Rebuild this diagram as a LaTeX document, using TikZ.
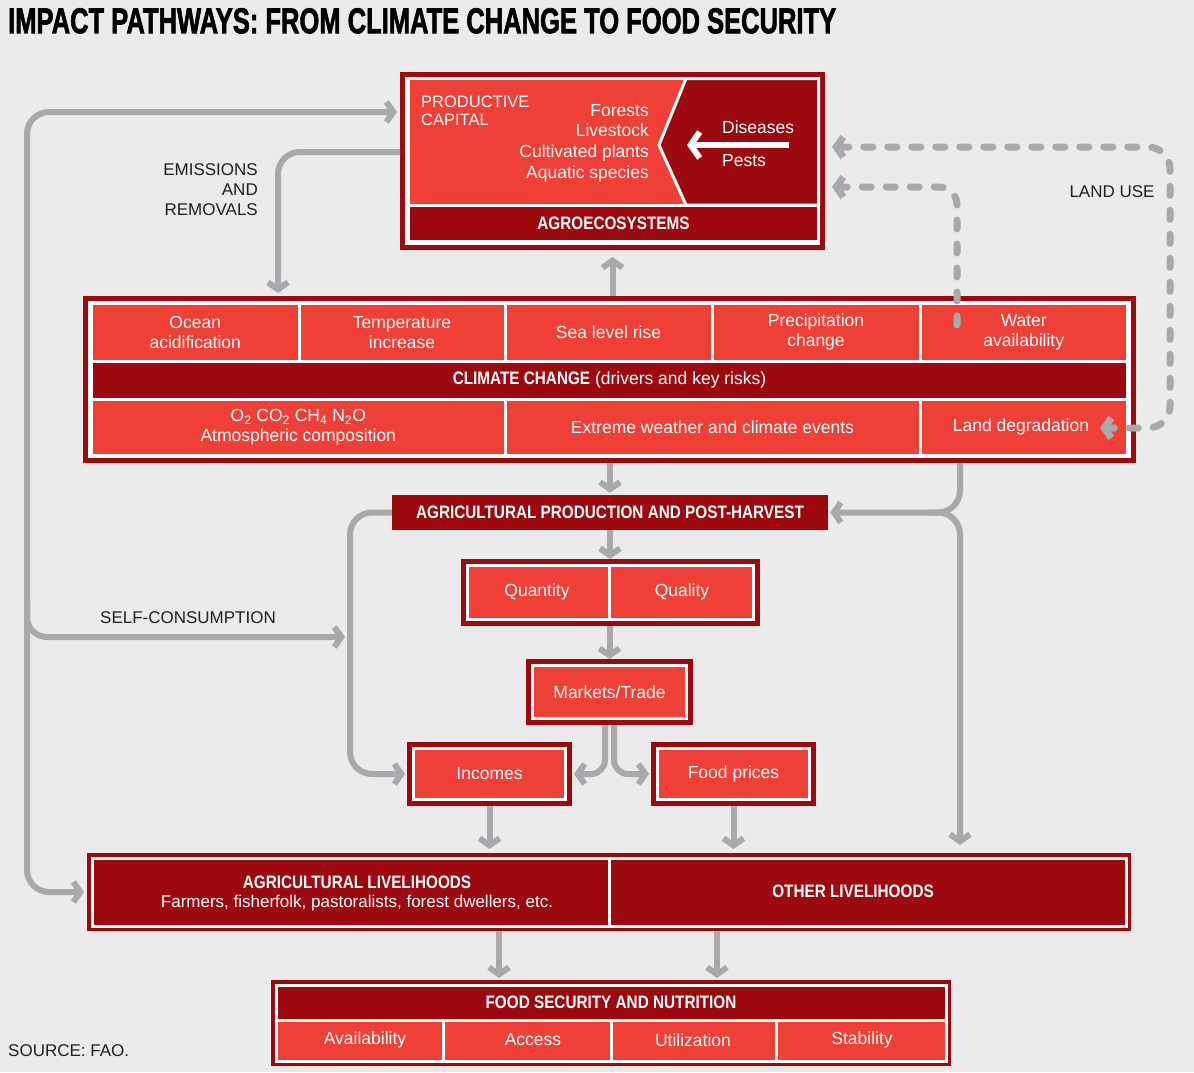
\documentclass[tikz,border=0pt]{standalone}
\usepackage{fontspec}
\usepackage{graphicx}
\setmainfont{Liberation Sans}
\newfontfamily\headf[FakeStretch=0.85]{Liberation Sans}
\newfontfamily\titlef[FakeBold=2.2]{Liberation Sans}
\usetikzlibrary{arrows.meta}
\definecolor{bg}{HTML}{EBEBEB}
\definecolor{dred}{HTML}{9C0A10}
\definecolor{bred}{HTML}{EE4036}
\definecolor{agray}{HTML}{A7A9AC}
\definecolor{ink}{HTML}{231F20}
\begin{document}
\begin{tikzpicture}[x=1pt,y=-1pt,
  >={Straight Barb[length=7pt,width=20pt]},
  font=\fontsize{17.5}{20}\selectfont,
  garrow/.style={draw=agray, line width=6pt, ->},
  gdash/.style={draw=agray, line width=7pt, line cap=round, dash pattern=on 9pt off 15pt},
  frameA/.style={fill=white, preaction={draw=dred, line width=10pt}, inner sep=0pt, outer sep=5pt},
  cell/.style={fill=bred, draw=white, line width=3pt, inner sep=0pt, text=white, align=center},
  dcell/.style={cell, fill=dred},
  boxW/.style={fill=bred, draw=white, line width=3pt, preaction={draw=dred, line width=13pt}, inner sep=0pt, outer sep=6.5pt, text=white, align=center},
  boxD/.style={draw=white, line width=3pt, preaction={draw=dred, line width=10pt}, inner sep=0pt, outer sep=5pt, text=white, align=center},
  hd/.style={font=\headf\bfseries\fontsize{18}{20}\selectfont},
  wtext/.style={text=white, inner sep=0pt},
  lab/.style={text=ink, inner sep=0pt, font=\fontsize{17}{20}\selectfont},
]
\useasboundingbox (0,0) rectangle (1194,1072);
\fill[bg] (0,0) rectangle (1194,1072);

% title
\node[anchor=north west, inner sep=0pt, text=black] (title) at (8,8)
  {\resizebox{828pt}{25pt}{\titlef\bfseries IMPACT PATHWAYS: FROM CLIMATE CHANGE TO FOOD SECURITY}};

% ---------- agroecosystems ----------
\node[frameA, minimum width=415pt, minimum height=168pt] (agro) at (612.5,161) {};
\node[cell, minimum width=410pt, minimum height=126.5pt] (agtop) at (613.5,141.75) {};
\filldraw[fill=dred, draw=white, line width=3pt] (686,78.5) -- (818.5,78.5) -- (818.5,205) -- (686,205) -- (659,145) -- cycle;
\node[dcell, minimum width=410pt, minimum height=36.5pt, hd] (agband) at (613.5,223.25) {AGROECOSYSTEMS};
\node[wtext, anchor=west, align=left, font=\fontsize{16.5}{18}\selectfont] (prodcap) at (421,110.5) {PRODUCTIVE\\CAPITAL};
\node[wtext, anchor=east, align=right, font=\fontsize{17.5}{20.7}\selectfont] (capital) at (649,143) {Forests\\Livestock\\Cultivated plants\\Aquatic species};
\node[wtext, anchor=west] (diseases) at (722,127) {Diseases};
\node[wtext, anchor=west] (pests) at (722,161) {Pests};
\coordinate (wa1) at (789,145);
\coordinate (wa2) at (687,145);
\draw[white, line width=6pt, -{Straight Barb[length=9pt,width=26pt]}] (wa1) -- (wa2);

% ---------- climate change ----------
\node[frameA, minimum width=1043pt, minimum height=157pt] (cc) at (609.5,379.5) {};
\node[cell, minimum width=207.5pt, minimum height=57.5pt] (ocean) at (195.25,332.25) {Ocean\\acidification};
\node[cell, minimum width=206pt, minimum height=57.5pt] (temp) at (402,332.25) {Temperature\\increase};
\node[cell, minimum width=207pt, minimum height=57.5pt] (sea) at (608.5,332.25) {Sea level rise};
\node[cell, minimum width=208pt, minimum height=57.5pt] (precip) at (816,332.25) {Precipitation\\change};
\node[cell, minimum width=207.5pt, minimum height=57.5pt] (water) at (1023.75,332.25) {Water\\availability};
\node[dcell, minimum width=1036pt, minimum height=38pt] (ccband) at (609.5,380) {{\headf\bfseries\fontsize{18}{20}\selectfont CLIMATE CHANGE} (drivers and key risks)};
\node[cell, minimum width=413.5pt, minimum height=56.5pt] (atmos) at (298.25,427.25) {O\textsubscript{2} CO\textsubscript{2} CH\textsubscript{4} N\textsubscript{2}O\\Atmospheric composition};
\node[cell, minimum width=415pt, minimum height=56.5pt] (extreme) at (712.5,427.25) {Extreme weather and climate events};
\node[cell, minimum width=207.5pt, minimum height=56.5pt] (landdeg) at (1023.75,427.25) {};
\node[wtext] (ldtext) at (1021,427) {Land degradation};

% ---------- production chain ----------
\node[fill=dred, minimum width=436pt, minimum height=35pt, inner sep=0pt, text=white, hd] (agprod) at (610,512.5) {AGRICULTURAL PRODUCTION AND POST-HARVEST};
\node[boxW, minimum width=286pt, minimum height=54pt] (qq) at (610.5,592.5) {};
\coordinate (qqa) at (609,565.5);
\coordinate (qqb) at (609,619.5);
\draw[white, line width=3pt] (qqa) -- (qqb);
\node[wtext] (quantity) at (537,592) {Quantity};
\node[wtext] (quality) at (682,592) {Quality};
\node[boxW, minimum width=154pt, minimum height=53pt] (markets) at (609.5,692) {Markets/Trade};
\node[boxW, minimum width=152pt, minimum height=51pt] (incomes) at (489.5,774) {Incomes};
\node[boxW, minimum width=152pt, minimum height=51pt] (foodprices) at (733.5,774) {Food prices};

% ---------- livelihoods ----------
\node[boxD, fill=dred, minimum width=1034pt, minimum height=68pt] (liv) at (609,892) {};
\draw[white, line width=3pt] (609,858) -- (609,926);
\node[wtext, hd] (agl1) at (357,882) {AGRICULTURAL LIVELIHOODS};
\node[wtext, font=\fontsize{17}{20}\selectfont] (agl2) at (357,903) {Farmers, fisherfolk, pastoralists, forest dwellers, etc.};
\node[wtext, hd] (othl) at (853,891) {OTHER LIVELIHOODS};

% ---------- food security ----------
\node[boxD, fill=bred, minimum width=670pt, minimum height=76pt] (fs) at (611,1023) {};
\node[dcell, minimum width=670pt, minimum height=35pt, hd] (fsband) at (611,1002.5) {FOOD SECURITY AND NUTRITION};
\draw[white, line width=3pt] (443,1020) -- (443,1061) (611,1020) -- (611,1061) (776,1020) -- (776,1061);
\node[wtext] (avail) at (365,1040) {Availability};
\node[wtext] (access) at (533,1040) {Access};
\node[wtext] (util) at (693,1040) {Utilization};
\node[wtext] (stab) at (862,1040) {Stability};

% ---------- labels ----------
\node[lab, anchor=east, align=right] (emis) at (258,190) {EMISSIONS\\AND\\REMOVALS};
\node[lab] (landuse) at (1112,192) {LAND USE};
\node[lab] (selfc) at (188,618) {SELF-CONSUMPTION};
\node[lab, anchor=west] (source) at (8,1051) {SOURCE: FAO.};

% ---------- connectors ----------
\coordinate (rl) at (960,0);
\coordinate (rj) at (928,512.5);
\coordinate (lb) at (350,0);
\coordinate (ml) at (27,0);
\coordinate (em) at (278,0);
\coordinate (lu) at (1170,0);
\coordinate (ldt) at (1100,428);
\coordinate (wd) at (957,325);
\coordinate (scA) at (27,600);
\coordinate (scB) at (350,637);
\coordinate (f1) at ([xshift=-112pt]fs.north);
\coordinate (f2) at ([xshift=106pt]fs.north);

\draw[garrow, shorten >=7pt] (agro.south |- cc.north) -- (agro.south);
\draw[garrow, shorten >=2pt] (agprod.north |- cc.south) -- (agprod.north);
\draw[garrow] (agprod.south) -- (agprod.south |- qq.north);
\draw[garrow] (markets.north |- qq.south) -- (markets.north);
\draw[garrow, rounded corners=14pt, shorten >=2pt] ([xshift=-4.5pt]markets.south) |- (incomes.east);
\draw[garrow, rounded corners=14pt, shorten >=2pt] ([xshift=4.5pt]markets.south) |- (foodprices.west);
\draw[garrow, shorten >=4pt] (incomes.south) -- (incomes.south |- liv.north);
\draw[garrow, shorten >=4pt] (foodprices.south) -- (foodprices.south |- liv.north);
\draw[garrow, shorten >=2pt] (f1 |- liv.south) -- (f1);
\draw[garrow, shorten >=2pt] (f2 |- liv.south) -- (f2);
\draw[garrow, rounded corners=22pt, shorten >=2pt] (rl |- cc.south) |- (agprod.east);
\draw[garrow, rounded corners=22pt, shorten >=8pt] (rj) -| (rl |- liv.north);
\draw[garrow, rounded corners=22pt, shorten >=2pt] (agprod.west) -| (lb |- incomes.west) -- (incomes.west);
\draw[garrow, rounded corners=20pt, shorten >=5pt] (scA) |- (scB);
\draw[garrow, <->, rounded corners=22pt, shorten <=3pt, shorten >=3pt] ([yshift=49pt]agro.west) -| (ml |- liv.west) -- (liv.west);
\draw[garrow, rounded corners=22pt, shorten >=3pt] ([yshift=9pt]agro.west) -| (em |- cc.north);
\draw[gdash, <->, rounded corners=22pt, shorten <=7pt] ([yshift=14pt]agro.east) -| (lu |- ldt) -- (ldt);
\draw[gdash, ->, rounded corners=18pt, shorten >=7pt] (wd) |- ([yshift=-26pt]agro.east);
\end{tikzpicture}
\end{document}
